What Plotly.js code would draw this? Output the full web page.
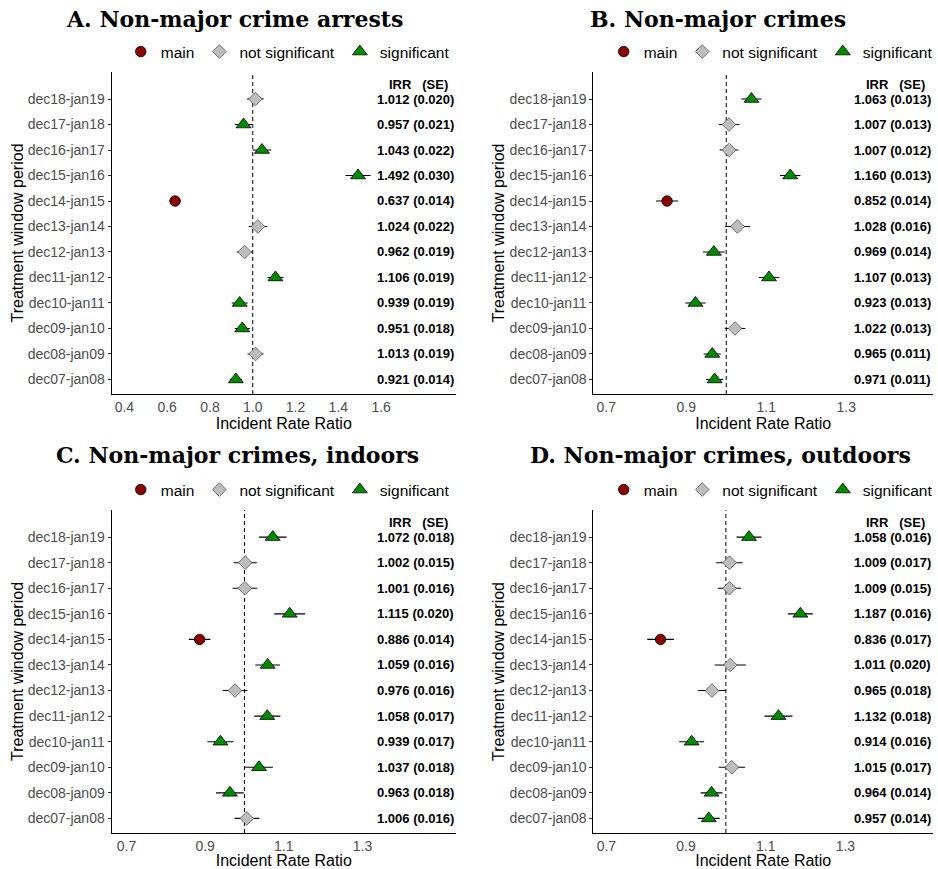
<!DOCTYPE html>
<html>
<head>
<meta charset="utf-8">
<script src="https://cdn.plot.ly/plotly-3.0.1.min.js"></script>
<style>
  html, body { margin: 0; padding: 0; background: #fff; }
  #chart { width: 938px; height: 869px; }
</style>
</head>
<body>
<div id="chart"></div>
<script>
// Treatment window periods, listed from the bottom row to the top row
const periods = ['dec07-jan08', 'dec08-jan09', 'dec09-jan10', 'dec10-jan11', 'dec11-jan12', 'dec12-jan13',
                 'dec13-jan14', 'dec14-jan15', 'dec15-jan16', 'dec16-jan17', 'dec17-jan18', 'dec18-jan19'];

// A. Non-major crime arrests
const irrA   = [0.921, 1.013, 0.951, 0.939, 1.106, 0.962, 1.024, 0.637, 1.492, 1.043, 0.957, 1.012];
const seA    = [0.014, 0.019, 0.018, 0.019, 0.019, 0.019, 0.022, 0.014, 0.030, 0.022, 0.021, 0.020];
const groupA = ['sig', 'ns', 'sig', 'sig', 'sig', 'ns', 'ns', 'main', 'sig', 'sig', 'sig', 'ns'];

// B. Non-major crimes
const irrB   = [0.971, 0.965, 1.022, 0.923, 1.107, 0.969, 1.028, 0.852, 1.160, 1.007, 1.007, 1.063];
const seB    = [0.011, 0.011, 0.013, 0.013, 0.013, 0.014, 0.016, 0.014, 0.013, 0.012, 0.013, 0.013];
const groupB = ['sig', 'sig', 'ns', 'sig', 'sig', 'sig', 'ns', 'main', 'sig', 'ns', 'ns', 'sig'];

// C. Non-major crimes, indoors
const irrC   = [1.006, 0.963, 1.037, 0.939, 1.058, 0.976, 1.059, 0.886, 1.115, 1.001, 1.002, 1.072];
const seC    = [0.016, 0.018, 0.018, 0.017, 0.017, 0.016, 0.016, 0.014, 0.020, 0.016, 0.015, 0.018];
const groupC = ['ns', 'sig', 'sig', 'sig', 'sig', 'ns', 'sig', 'main', 'sig', 'ns', 'ns', 'sig'];

// D. Non-major crimes, outdoors
const irrD   = [0.957, 0.964, 1.015, 0.914, 1.132, 0.965, 1.011, 0.836, 1.187, 1.009, 1.009, 1.058];
const seD    = [0.014, 0.014, 0.017, 0.016, 0.018, 0.018, 0.020, 0.017, 0.016, 0.015, 0.017, 0.016];
const groupD = ['sig', 'sig', 'ns', 'sig', 'sig', 'ns', 'ns', 'main', 'sig', 'ns', 'ns', 'sig'];

const panelTitles = ['A. Non-major crime arrests', 'B. Non-major crimes',
                     'C. Non-major crimes, indoors', 'D. Non-major crimes, outdoors'];
const xTicksA = [0.4, 0.6, 0.8, 1.0, 1.2, 1.4, 1.6];
const xTicksBCD = [0.7, 0.9, 1.1, 1.3];

// Marker style for each group
const groupStyle = {
  main: { name: 'main', symbol: 'circle', size: 10.5, color: '#8B0000', line: '#000000', lw: 0.8 },
  ns:   { name: 'not significant', symbol: 'diamond', size: 10.5, color: '#BDBDBD', line: '#555555', lw: 0.8 },
  sig:  { name: 'significant', symbol: 'triangle-up', size: 13, color: '#008B00', line: '#000000', lw: 0.8 }
};
const groupOrder = ['main', 'ns', 'sig'];

// Page geometry (pixels)
const W = 938, H = 869;
const panels = [
  { irr: irrA, se: seA, group: groupA, ticks: xTicksA, range: [0.34, 1.95],
    px: [112, 458], py: [72, 394], titleX: 235.5, titleY: 19, legX: 289, legY: 52 },
  { irr: irrB, se: seB, group: groupB, ticks: xTicksBCD, range: [0.668, 1.517],
    px: [596, 937], py: [72, 394], titleX: 721, titleY: 19, legX: 774, legY: 52 },
  { irr: irrC, se: seC, group: groupC, ticks: xTicksBCD, range: [0.662, 1.538],
    px: [112, 458], py: [510, 833], titleX: 239, titleY: 455, legX: 289, legY: 490 },
  { irr: irrD, se: seD, group: groupD, ticks: xTicksBCD, range: [0.6675, 1.52],
    px: [596, 937], py: [510, 833], titleX: 724, titleY: 455, legX: 774, legY: 490 }
];

const FONT = 'Liberation Sans, Arial, sans-serif';
const traces = [];
const annotations = [];
const shapes = [];
const layout = {
  width: W, height: H,
  margin: { l: 0, r: 0, t: 0, b: 0 },
  paper_bgcolor: '#ffffff', plot_bgcolor: '#ffffff',
  font: { family: FONT, color: '#000' },
  showlegend: true
};

panels.forEach((p, k) => {
  const n = k + 1;
  const sfx = n === 1 ? '' : String(n);
  const xName = 'x' + sfx, yName = 'y' + sfx;
  const legendName = 'legend' + sfx;

  groupOrder.forEach(g => {
    const st = groupStyle[g];
    const idx = p.group.map((v, i) => v === g ? i : -1).filter(i => i >= 0);
    traces.push({
      type: 'scatter', mode: 'markers',
      x: idx.map(i => p.irr[i]),
      y: idx.map(i => periods[i]),
      error_x: { type: 'data', array: idx.map(i => 1.96 * p.se[i]), visible: true,
                 color: '#000', thickness: 1.1, width: 0 },
      marker: { symbol: st.symbol, size: st.size, color: st.color,
                line: { color: st.line, width: st.lw } },
      name: st.name,
      xaxis: xName, yaxis: yName,
      legend: legendName,
      showlegend: true,
      hoverinfo: 'x+y'
    });
  });

  layout['xaxis' + sfx] = {
    domain: [p.px[0] / W, p.px[1] / W],
    anchor: yName,
    range: p.range,
    tickvals: p.ticks,
    tickformat: '.1f',
    ticks: '',
    showgrid: false, zeroline: false,
    showline: true, linecolor: '#000', linewidth: 1,
    tickfont: { family: FONT, size: 14, color: '#4d4d4d' },
    title: { text: 'Incident Rate Ratio', font: { family: FONT, size: 16, color: '#000' }, standoff: 0 }
  };
  layout['yaxis' + sfx] = {
    domain: [1 - p.py[1] / H, 1 - p.py[0] / H],
    anchor: xName,
    type: 'category',
    categoryorder: 'array', categoryarray: periods,
    range: [-0.57, 12.06],
    ticks: 'outside', ticklen: 3, tickcolor: '#333', tickwidth: 1,
    showgrid: false, zeroline: false,
    showline: true, linecolor: '#000', linewidth: 1,
    tickfont: { family: FONT, size: 14, color: '#4d4d4d' },
    title: { text: 'Treatment window period', font: { family: FONT, size: 16, color: '#000' }, standoff: 0 }
  };
  layout[legendName] = {
    orientation: 'h',
    x: p.legX / W, xanchor: 'center',
    y: 1 - p.legY / H, yanchor: 'middle',
    font: { family: FONT, size: 15.5, color: '#000' },
    bgcolor: 'rgba(0,0,0,0)', borderwidth: 0
  };

  // reference line at IRR = 1
  shapes.push({
    type: 'line', xref: xName, yref: yName + ' domain',
    x0: 1, x1: 1, y0: 0, y1: 1, layer: 'below',
    line: { color: '#000', width: 1, dash: '4px,3px' }
  });

  // panel title
  annotations.push({
    text: '<b>' + panelTitles[k] + '</b>',
    xref: 'paper', yref: 'paper',
    x: p.titleX / W, y: 1 - p.titleY / H,
    xanchor: 'center', yanchor: 'middle', showarrow: false,
    font: { family: 'DejaVu Serif, serif', size: 22, color: '#000' }
  });

  // column header and IRR (SE) labels
  annotations.push({
    text: '<b>IRR\u00a0\u00a0\u00a0(SE)</b>',
    xref: xName + ' domain', yref: yName + ' domain',
    x: 1, y: 0.962, xanchor: 'center', yanchor: 'middle', xshift: -38,
    showarrow: false, font: { family: FONT, size: 13, color: '#000' }
  });
  p.irr.forEach((v, i) => {
    annotations.push({
      text: '<b>' + v.toFixed(3) + ' (' + p.se[i].toFixed(3) + ')</b>',
      xref: xName + ' domain', yref: yName,
      x: 1, y: periods[i], xanchor: 'right', yanchor: 'middle', xshift: 0,
      showarrow: false, font: { family: FONT, size: 13, color: '#000' }
    });
  });
});

layout.annotations = annotations;
layout.shapes = shapes;

Plotly.newPlot('chart', traces, layout, { displayModeBar: false, responsive: false });
</script>
</body>
</html>
